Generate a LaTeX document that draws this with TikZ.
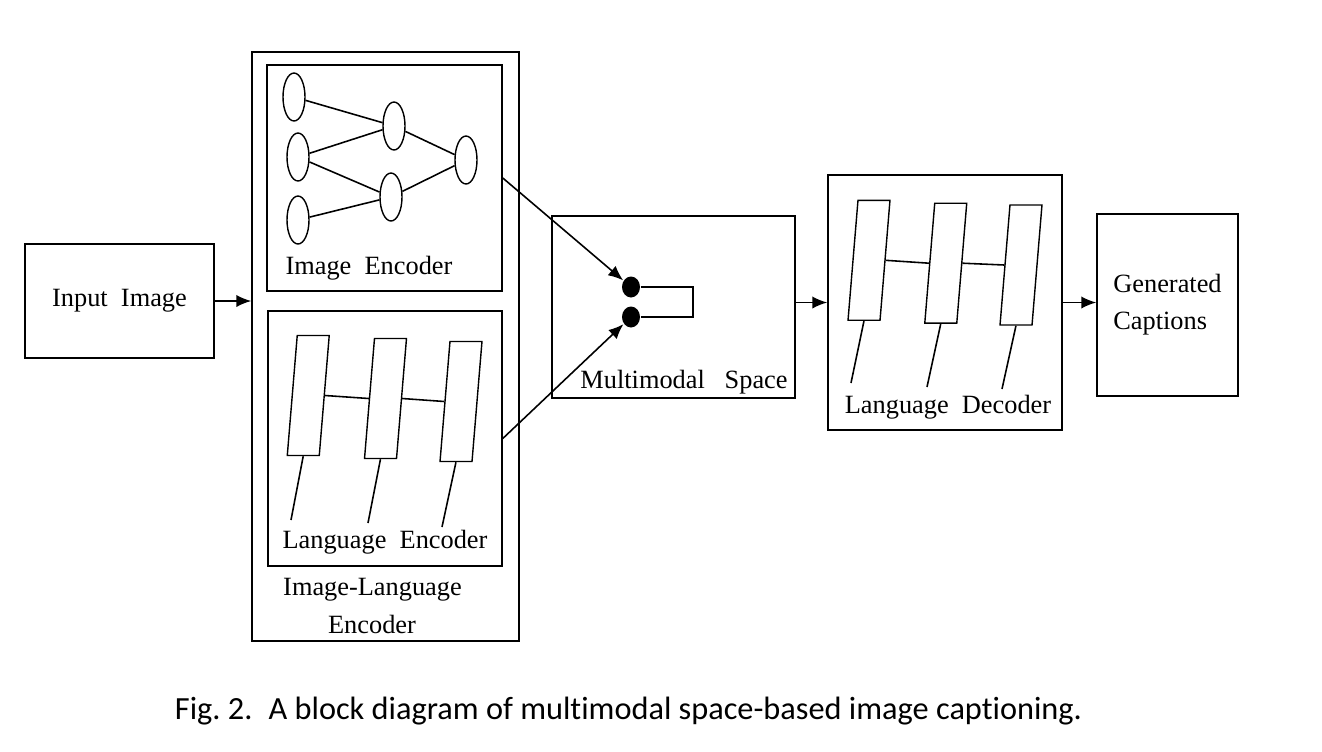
\documentclass[tikz,border=0pt]{standalone}
\usepackage{fontspec}
\setmainfont{Liberation Serif}
\newfontfamily\capfont[Ligatures = NoCommon]{Carlito}
\usetikzlibrary{arrows.meta, shapes, positioning}

\begin{document}
\begin{tikzpicture}[x = 0.02cm, y = -0.02cm, line width = 0.9pt,
    box node/.style={draw, rectangle, inner sep = 0pt, font=\fontsize{15}{21}\selectfont},
    nn node/.style={draw, ellipse, minimum width = 0.44cm, minimum height = 0.96cm, inner sep = 0pt, line width = 0.8pt},
    cell node/.style={draw, rectangle, xslant = 0.083, minimum width = 0.64cm, minimum height = 2.4cm, inner sep = 0pt, line width = 0.8pt},
    dot node/.style={ellipse, fill = black, minimum width = 0.36cm, minimum height = 0.42cm, inner sep = 0pt},
    lbl/.style={anchor = base, inner sep = 0pt, font=\fontsize{15}{21}\selectfont},
    arr/.style={-{Latex[length = 8.5pt, width = 7pt]}}]
      \useasboundingbox (0, 0) rectangle (1322, 751);
      % blocks
      \node[box node, minimum width = 3.78cm, minimum height = 2.28cm] (inp) at (119.5, 301) {Input~~Image};
      \node[box node, minimum width = 5.34cm, minimum height = 11.78cm] (ile) at (385.5, 346.5) {};
      \node[box node, minimum width = 4.70cm, minimum height = 4.52cm] (ienc) at (384.5, 178) {};
      \node[box node, minimum width = 4.68cm, minimum height = 5.10cm] (lenc) at (385, 438.5) {};
      \node[box node, minimum width = 4.86cm, minimum height = 3.64cm] (mm) at (673.5, 307) {};
      \node[box node, minimum width = 4.68cm, minimum height = 5.10cm] (dec) at (945, 302.5) {};
      \node[box node, minimum width = 2.82cm, minimum height = 3.64cm, align = left] (cap) at (1167.5, 305) {Generated\\Captions};
      % image encoder
      \node[nn node] (n1) at (294, 97) {};
      \node[nn node] (n2) at (298, 157) {};
      \node[nn node] (n3) at (298, 220) {};
      \node[nn node] (m1) at (394, 126) {};
      \node[nn node] (m2) at (391, 197) {};
      \node[nn node] (o1) at (466, 160) {};
      \draw (n1) -- (m1);
      \draw (n2) -- (m1);
      \draw (n2) -- (m2);
      \draw (n3) -- (m2);
      \draw (m1) -- (o1);
      \draw (m2) -- (o1);
      \node[lbl] (ienclbl) at (369, 274) {Image~~Encoder};
      % language encoder
      \node[cell node] (le1) at (308.25, 395.5) {};
      \node[cell node] (le2) at (385.5, 398.5) {};
      \node[cell node] (le3) at (461, 401.5) {};
      \coordinate (lt1) at (291, 520);
      \coordinate (lt2) at (368, 523);
      \coordinate (lt3) at (442, 527);
      \draw (le1.east) -- (le2.west);
      \draw (le2.east) -- (le3.west);
      \draw (le1.south) -- (lt1);
      \draw (le2.south) -- (lt2);
      \draw (le3.south) -- (lt3);
      \node[lbl] (lenclbl) at (385, 548) {Language~~Encoder};
      \node[lbl] (ilelbla) at (372.5, 595) {Image-Language};
      \node[lbl] (ilelblb) at (372, 633) {Encoder};
      % multimodal space
      \node[dot node] (d1) at (631, 287) {};
      \node[dot node] (d2) at (631, 317) {};
      \coordinate (br) at (693, 287);
      \draw (d1.east) -- (br) |- (d2.east);
      \node[lbl] (mmlbl) at (684, 388) {Multimodal~~~Space};
      % language decoder
      \node[cell node] (ld1) at (869, 260.3) {};
      \node[cell node] (ld2) at (945.75, 263.2) {};
      \node[cell node] (ld3) at (1021, 265) {};
      \coordinate (dt1) at (851, 383);
      \coordinate (dt2) at (927, 387);
      \coordinate (dt3) at (1002, 389);
      \draw (ld1.east) -- (ld2.west);
      \draw (ld2.east) -- (ld3.west);
      \draw (ld1.south) -- (dt1);
      \draw (ld2.south) -- (dt2);
      \draw (ld3.south) -- (dt3);
      \node[lbl] (declbl) at (948, 413) {Language~~Decoder};
      % arrows
      \draw[arr] (inp.east) -- (inp.east -| ile.west);
      \draw[arr] (ienc.east) -- (d1);
      \draw[arr] (lenc.east) -- (d2);
      \draw[arr] (mm.east |- dec.west) -- (dec.west);
      \draw[arr] (dec.east) -- (dec.east -| cap.west);
      % caption
      \node[anchor = base, inner sep = 0pt, font=\capfont\fontsize{18.4}{22}\selectfont] (fig) at (628.5, 719) {Fig.~2.\enspace A block diagram of multimodal space-based image captioning.};
\end{tikzpicture}
\end{document}
